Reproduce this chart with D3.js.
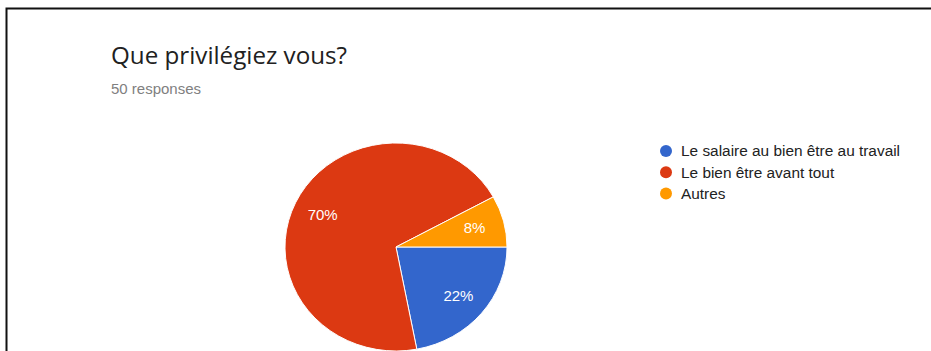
<!DOCTYPE html>
<html>
<head>
<meta charset="utf-8">
<script src="https://cdn.jsdelivr.net/npm/d3@7"></script>
<style>
  html, body { margin: 0; padding: 0; background: #fff; }
  svg { display: block; }
</style>
</head>
<body>
<svg id="chart" width="931" height="351"></svg>
<script>
// Survey answers (50 responses)
const categories = ["Le salaire au bien être au travail", "Le bien être avant tout", "Autres"];
const counts = [11, 35, 4];
const title = "Que privilégiez vous?";
const subtitle = "50 responses";

const svg = d3.select("#chart");
const W = 931, H = 351;

// Card frame
svg.append("rect")
  .attr("x", 6.5).attr("y", 8.5)
  .attr("width", W + 20).attr("height", H + 20)
  .attr("fill", "#fff")
  .attr("stroke", "#111").attr("stroke-width", 2);

svg.append("text")
  .attr("x", 111).attr("y", 64)
  .attr("font-family", "'Open Sans', Roboto, sans-serif")
  .attr("font-size", 24.2)
  .attr("fill", "#212121")
  .text(title);

svg.append("text")
  .attr("x", 111).attr("y", 94)
  .attr("font-family", "'Liberation Sans', Arial, sans-serif")
  .attr("font-size", 15)
  .attr("fill", "#808080")
  .text(subtitle);

const color = d3.scaleOrdinal()
  .domain(categories)
  .range(["#3366cc", "#dc3912", "#ff9900"]);

const total = d3.sum(counts);
const data = categories.map((c, i) => ({ name: c, value: counts[i] }));

// Slices start at 3 o'clock and run clockwise
const pie = d3.pie()
  .sort(null)
  .value(d => d.value)
  .startAngle(Math.PI / 2)
  .endAngle(Math.PI / 2 + 2 * Math.PI);

const r = 111;
const arc = d3.arc().innerRadius(0).outerRadius(r);
const labelArc = d3.arc().innerRadius(r * 0.73).outerRadius(r * 0.73);

const g = svg.append("g")
  .attr("transform", "translate(396,247) scale(1,0.937)");

const arcs = pie(data);

g.selectAll("path.slice")
  .data(arcs)
  .join("path")
  .attr("class", "slice")
  .attr("d", arc)
  .attr("fill", d => color(d.data.name))
  .attr("stroke", "#fff")
  .attr("stroke-width", 1);

g.selectAll("text.pct")
  .data(arcs)
  .join("text")
  .attr("class", "pct")
  .attr("transform", d => { const [x, y] = labelArc.centroid(d); return `translate(${x},${y}) scale(1,${1/0.937})`; })
  .attr("text-anchor", "middle")
  .attr("dy", "0.35em")
  .attr("font-family", "'Liberation Sans', Arial, sans-serif")
  .attr("font-size", 15)
  .attr("fill", "#fff")
  .text(d => Math.round(d.data.value / total * 100) + "%");

// Legend
const legend = svg.append("g").attr("transform", "translate(666,151)");
const item = legend.selectAll("g")
  .data(categories)
  .join("g")
  .attr("transform", (d, i) => `translate(0,${i * 21.3})`);

item.append("circle")
  .attr("r", 6)
  .attr("fill", d => color(d));

item.append("text")
  .attr("x", 15)
  .attr("dy", "0.35em")
  .attr("font-family", "'Liberation Sans', Arial, sans-serif")
  .attr("font-size", 15.4)
  .attr("fill", "#222")
  .text(d => d);
</script>
</body>
</html>
